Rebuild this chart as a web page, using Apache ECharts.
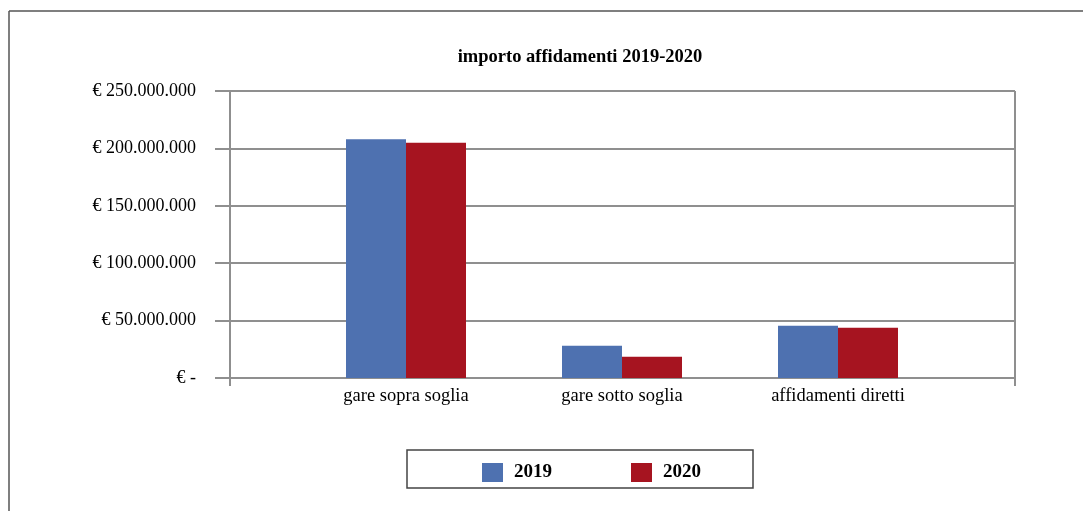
<!DOCTYPE html>
<html>
<head>
<meta charset="utf-8">
<script src="https://cdn.jsdelivr.net/npm/echarts@6/dist/echarts.min.js"></script>
<style>html,body{margin:0;padding:0;background:#fff}#c{width:1083px;height:511px}</style>
</head>
<body>
<div id="c"></div>
<script>
const titleText = 'importo affidamenti 2019-2020';
const categories = ['gare sopra soglia', 'gare sotto soglia', 'affidamenti diretti'];
const seriesNames = ['2019', '2020'];
const values2019 = [208000000, 28000000, 45500000];
const values2020 = [205000000, 18500000, 43800000];
const yTicks = [0, 50000000, 100000000, 150000000, 200000000, 250000000];

const FONT = '"Liberation Serif", "DejaVu Serif", serif';
const GRIDC = '#8f8f8f';
function fmt(v) {
  if (v === 0) return '€ -';
  return '€ ' + String(v).replace(/\B(?=(\d{3})+(?!\d))/g, '.');
}
const chart = echarts.init(document.getElementById('c'), null, {renderer: 'canvas'});
chart.setOption({
  animation: false,
  backgroundColor: '#fff',
  title: {
    text: titleText, left: 575, top: 43, textAlign: 'center',
    textStyle: {fontFamily: FONT, fontSize: 18.5, fontWeight: 'bold', color: '#000'}
  },
  graphic: [
    {type: 'line', shape: {x1: 9, y1: 11, x2: 1083, y2: 11}, style: {stroke: '#555', lineWidth: 1.5}},
    {type: 'line', shape: {x1: 9, y1: 11, x2: 9, y2: 511}, style: {stroke: '#555', lineWidth: 1.5}},
    {type: 'rect', shape: {x: 407, y: 450, width: 346, height: 38}, style: {fill: 'none', stroke: '#444', lineWidth: 1.5}}
  ],
  legend: {
    data: seriesNames, left: 477, top: 458, itemWidth: 21, itemHeight: 19, itemGap: 79,
    icon: 'rect',
    textStyle: {fontFamily: FONT, fontSize: 19, fontWeight: 'bold', color: '#000', padding: [0,0,0,6]}
  },
  grid: [
    {left: 230, right: 68, top: 91, bottom: 133},
    {left: 298, right: 137, top: 91, bottom: 133}
  ],
  xAxis: [
    {gridIndex: 0, type: 'value', min: 0, max: 1, interval: 1,
     axisLine: {show: true, lineStyle: {color: GRIDC, width: 2}},
     axisTick: {show: true, length: 8, lineStyle: {color: GRIDC, width: 2}},
     axisLabel: {show: false},
     splitLine: {show: true, lineStyle: {color: GRIDC, width: 2}}},
    {gridIndex: 1, type: 'category', data: categories,
     axisLine: {show: false}, axisTick: {show: false},
     axisLabel: {fontFamily: FONT, fontSize: 18.5, color: '#000', margin: 9}}
  ],
  yAxis: [
    {gridIndex: 0, type: 'value', min: 0, max: 250000000, interval: 50000000,
     axisLine: {show: true, lineStyle: {color: GRIDC, width: 2}},
     axisTick: {show: true, length: 15, lineStyle: {color: GRIDC, width: 2}},
     axisLabel: {fontFamily: FONT, fontSize: 18, color: '#000', margin: 34, formatter: v => fmt(v)},
     splitLine: {show: true, lineStyle: {color: GRIDC, width: 2}}},
    {gridIndex: 1, type: 'value', min: 0, max: 250000000, interval: 50000000, show: false,
     splitLine: {show: false}}
  ],
  series: [
    {name: seriesNames[0], type: 'bar', xAxisIndex: 1, yAxisIndex: 1, data: values2019,
     barWidth: 60, barGap: '0%', itemStyle: {color: '#4e71b0'}},
    {name: seriesNames[1], type: 'bar', xAxisIndex: 1, yAxisIndex: 1, data: values2020,
     barWidth: 60, barGap: '0%', itemStyle: {color: '#a61420'}}
  ]
});
</script>
</body>
</html>
